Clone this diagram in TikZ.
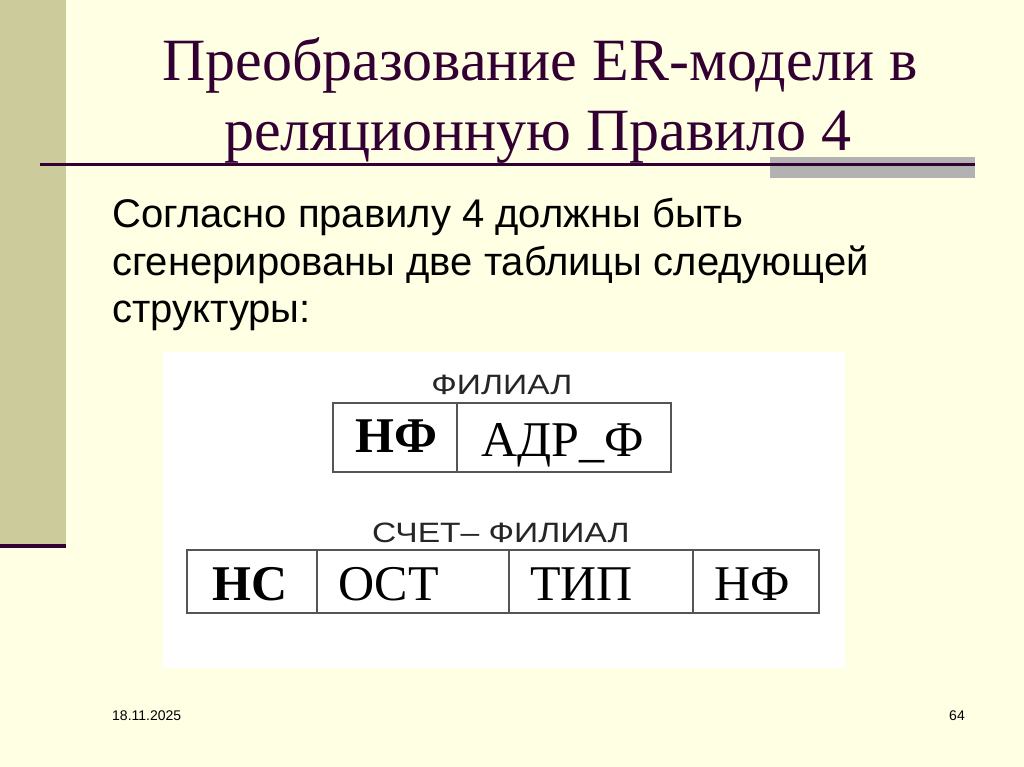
\documentclass[tikz,border=0pt]{standalone}
\usepackage{fontspec}
\setmainfont{Liberation Serif}
\newfontfamily\arialf{Liberation Sans}
\definecolor{bgc}{HTML}{FFFFE3}
\definecolor{barc}{HTML}{CCCB9B}
\definecolor{purp}{HTML}{330033}
\definecolor{grayb}{HTML}{B2B2B2}
\definecolor{tline}{HTML}{555555}
\tikzset{
  titletext/.style={text=purp, inner sep=0pt, font=\fontsize{60}{62}\selectfont},
  bodytext/.style={text=black, inner sep=0pt, anchor=base west, font=\arialf\fontsize{40}{44}\selectfont},
  tlabel/.style={text=black!85, inner sep=0pt, anchor=base, font=\arialf\fontsize{28}{30}\selectfont},
  cellbold/.style={inner sep=0pt, anchor=base west, font=\bfseries\fontsize{50}{52}\selectfont},
  cellreg/.style={inner sep=0pt, anchor=base west, font=\fontsize{50}{52}\selectfont},
  foot/.style={inner sep=0pt, anchor=base west, font=\arialf\fontsize{14}{16}\selectfont},
  cellbox/.style={draw=tline, line width=2pt},
}
\begin{document}
\begin{tikzpicture}[x=1pt,y=-1pt]
\useasboundingbox (0,0) rectangle (1024,767);
\fill[bgc] (0,0) rectangle (1024,767);
\fill[barc] (0,0) rectangle (66,546);
\draw[purp, line width=4pt] (0,546) -- (66,546);
\fill[grayb] (770,157) rectangle (975,178);
\draw[purp, line width=3pt] (40,165) -- (975,165);

\node[titletext, anchor=base] (t1) at (540,81) {Преобразование ER-модели в};
\node[titletext, anchor=base] (t2) at (538,151) {реляционную Правило 4};

\node[bodytext] (b1) at (112,227) {Согласно правилу 4 должны быть};
\node[bodytext] (b2) at (112,275) {сгенерированы две таблицы следующей};
\node[bodytext] (b3) at (112,322) {структуры:};

\fill[white] (163,352) rectangle (845,668);

% table 1
\node[tlabel, xscale=1.2] (l1) at (502,394) {ФИЛИАЛ};
\draw[cellbox] (333,403) rectangle (671,472);
\draw[cellbox] (457,403) -- (457,472);
\node[cellbold] (c11) at (355,452) {НФ};
\node[cellreg] (c12) at (481,456) {АДР\_Ф};

% table 2
\node[tlabel, xscale=1.2] (l2) at (501,542) {СЧЕТ– ФИЛИАЛ};
\draw[cellbox] (187,550) rectangle (819,613);
\draw[cellbox] (317,550) -- (317,613);
\draw[cellbox] (509,550) -- (509,613);
\draw[cellbox] (693,550) -- (693,613);
\node[cellbold] (c21) at (212,600) {НС};
\node[cellreg] (c22) at (338,600) {ОСТ};
\node[cellreg] (c23) at (530,600) {ТИП};
\node[cellreg] (c24) at (714,600) {НФ};

\node[foot] (d) at (112,720) {18.11.2025};
\node[foot] (p) at (949,720) {64};
\end{tikzpicture}
\end{document}
